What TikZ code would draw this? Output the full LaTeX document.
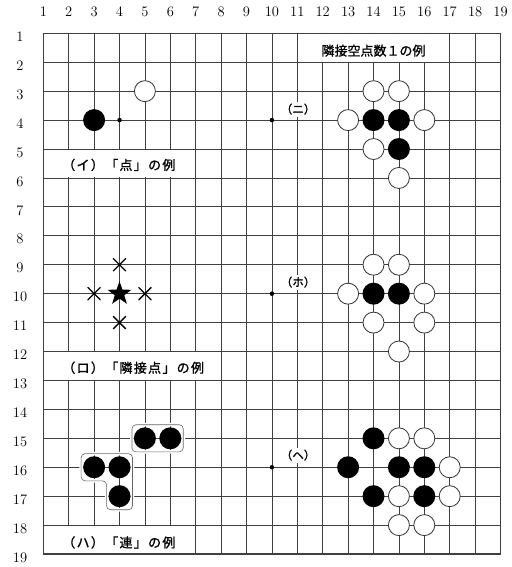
\documentclass[tikz,border=0pt]{standalone}
\usepackage{fontspec}
\usetikzlibrary{shapes.geometric,shapes.misc}
\newfontfamily\jp[FakeBold=1.2]{Noto Sans CJK JP}
\newfontfamily\jpw[LetterSpace=10,FakeBold=1.2]{Noto Sans CJK JP}
\begin{document}
\begin{tikzpicture}[x=25.4pt,y=-28.93pt,line join=round,line cap=round,
	grid/.style={black!75,line width=0.8pt},
	bs/.style={circle,fill=black,minimum size=22pt,inner sep=0pt},
	ws/.style={circle,draw=black!80,fill=white,line width=0.8pt,minimum size=21pt,inner sep=0pt},
	hoshi/.style={circle,fill=black,minimum size=4.5pt,inner sep=0pt},
	xmark/.style={cross out,draw=black,line width=1.3pt,minimum size=11pt,inner sep=0pt},
	ren/.style={draw=black!60,line width=0.6pt,rounded corners=4pt,preaction={draw=white,line width=3.5pt}},
	num/.style={font=\fontsize{14.5}{15}\selectfont,inner sep=0pt},
	tag/.style={font=\jp\fontsize{11.5}{12}\selectfont,fill=white,inner sep=2pt},
	title/.style={font=\jpw\fontsize{13}{13}\selectfont,anchor=west,inner sep=0pt}]
	\useasboundingbox (-0.705,-0.151) rectangle (19.413,19.448);
	% board
	\foreach \i in {1,...,19}{
		\draw[grid] (\i,1)--(\i,19);
		\draw[grid] (1,\i)--(19,\i);
	}
	\draw[grid,line width=1.2pt] (1,1) rectangle (19,19);
	\foreach \i in {1,...,19}{
		\node[num] (col\i) at (\i,0.264) {\i};
		\node[num] (row\i) at (0.083,\i+0.12) {\i};
	}
	% label boxes
	\foreach \a/\b/\c/\d in {11/1/17/2,1/5/7/6,1/12/8/13,1/18/7/19}
	\fill[white] ([xshift=0.7pt,yshift=-0.7pt]\a,\b) rectangle ([xshift=-0.7pt,yshift=0.7pt]\c,\d);
	\foreach \c/\r in {4/4,10/4,10/10,10/16}
	\node[hoshi] (h\c-\r) at (\c,\r) {};
	% ren
	\draw[ren] (4.49,14.53) rectangle (6.51,15.47);
	\draw[ren] (2.49,15.53)--(4.51,15.53)--(4.51,17.47)--(3.49,17.47)--(3.49,16.47)--(2.49,16.47)--cycle;
	% stones
	\foreach \c/\r in {3/4,14/4,15/4,15/5,14/10,15/10,5/15,6/15,3/16,4/16,4/17,14/15,13/16,15/16,16/16,14/17,16/17}
	\node[bs] (b\c-\r) at (\c,\r) {};
	\foreach \c/\r in {5/3,14/3,15/3,13/4,16/4,14/5,15/6,14/9,15/9,13/10,16/10,14/11,16/11,15/12,15/15,16/15,17/16,15/17,17/17,15/18,16/18}
	\node[ws] (w\c-\r) at (\c,\r) {};
	\node[star,star points=5,star point ratio=2.5,fill=black,minimum size=25pt,inner sep=0pt] (s4-10) at (4,10) {};
	\foreach \c/\r in {4/9,3/10,5/10,4/11}
	\node[xmark] (x\c-\r) at (\c,\r) {};
	% texts
	\node[title,anchor=center,font=\jp\fontsize{13}{13}\selectfont] (top) at (14.0,1.6) {隣接空点数１の例};
	\node[title] (ti) at (1.74,5.55) {（イ）「点」の例};
	\node[title] (tro) at (1.74,12.56) {（ロ）「隣接点」の例};
	\node[title] (tha) at (1.74,18.6) {（ハ）「連」の例};
	\node[tag] (tni) at (11.03,3.62) {（ニ）};
	\node[tag] (tho) at (11.03,9.6) {（ホ）};
	\node[tag] (the) at (11.03,15.58) {（ヘ）};
\end{tikzpicture}
\end{document}
